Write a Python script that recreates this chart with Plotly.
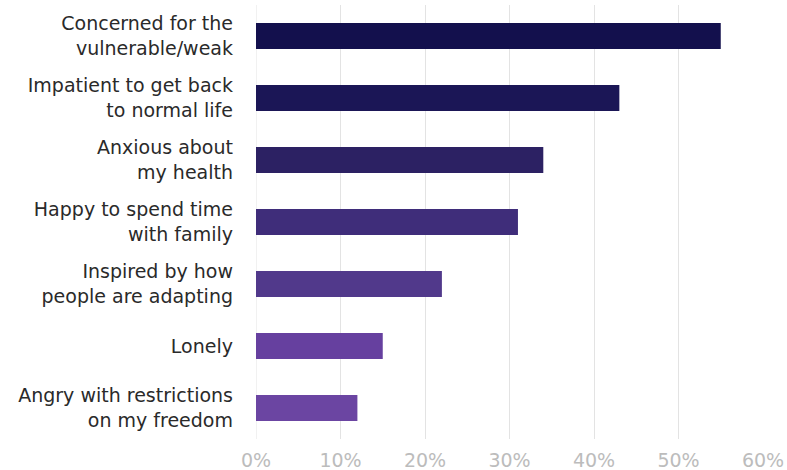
import plotly.graph_objects as go

categories = [
    "Concerned for the<br>vulnerable/weak",
    "Impatient to get back<br>to normal life",
    "Anxious about<br>my health",
    "Happy to spend time<br>with family",
    "Inspired by how<br>people are adapting",
    "Lonely",
    "Angry with restrictions<br>on my freedom",
]
values = [55, 43, 34, 31, 22, 15, 12]
colors = ["#13104d", "#1b1656", "#2c2163", "#3f2d7a", "#51398b", "#66409f", "#6b45a2"]
tick_vals = [0, 10, 20, 30, 40, 50, 60]
tick_text = ["0%", "10%", "20%", "30%", "40%", "50%", "60%"]

fig = go.Figure(go.Bar(
    x=values,
    y=categories,
    orientation="h",
    marker=dict(color=colors, line=dict(width=0)),
    hoverinfo="skip",
))

fig.update_layout(
    width=787,
    height=470,
    margin=dict(l=256, r=24, t=5, b=31),
    paper_bgcolor="white",
    plot_bgcolor="white",
    bargap=0.58,
    showlegend=False,
    font=dict(family="DejaVu Sans, Arial, sans-serif"),
)
fig.update_xaxes(
    range=[0, 60],
    tickvals=tick_vals,
    ticktext=tick_text,
    showgrid=True,
    gridcolor="#e3e3e3",
    gridwidth=1,
    zeroline=False,
    showline=False,
    tickfont=dict(size=19, color="#bcbcbc"),
    ticks="",
    ticklabelstandoff=8,
    automargin=False,
)
fig.update_yaxes(
    autorange="reversed",
    showgrid=False,
    showline=False,
    ticks="",
    tickfont=dict(size=19, color="#2a2a2a"),
    ticklabelstandoff=22,
    automargin=False,
)
fig.add_shape(type="line", xref="x", yref="paper", x0=0, x1=0, y0=0, y1=1,
              line=dict(color="#e3e3e3", width=1), layer="below")

fig.write_html(
    "out.html",
    config={"displayModeBar": False, "staticPlot": True},
    post_script="document.body.style.margin='0';document.body.style.overflow='hidden';",
)
